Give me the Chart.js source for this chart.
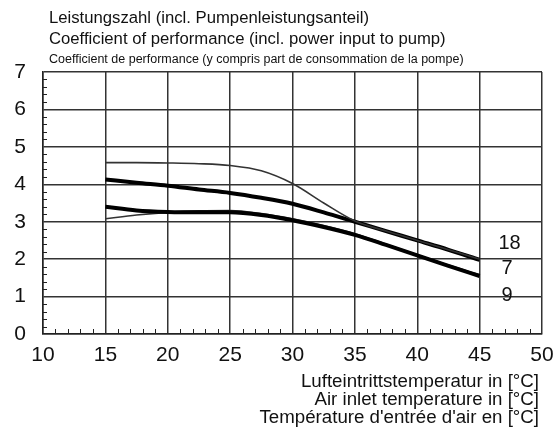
<!DOCTYPE html>
<html>
<head>
<meta charset="utf-8">
<script src="https://cdn.jsdelivr.net/npm/chart.js@4.4.1/dist/chart.umd.min.js"></script>
<style>
  html, body { margin: 0; padding: 0; background: #fff; }
  #wrap { width: 554px; height: 432px; position: relative; }
</style>
</head>
<body>
<div id="wrap"><canvas id="copChart"></canvas></div>
<script>
// air inlet temperature (°C)
const temps = [15, 17.5, 20, 22.5, 25, 27.5, 30, 32.5, 35, 37.5, 40, 42.5, 45];

// COP curves
const cop18 = [4.58, 4.58, 4.57, 4.55, 4.5, 4.36, 4.02, 3.5, 3.02, 2.75, 2.5, 2.25, 2.0];
const cop7 = [4.13, 4.04, 3.96, 3.86, 3.77, 3.64, 3.48, 3.25, 3.0, 2.75, 2.5, 2.25, 1.98];
const cop9 = [3.4, 3.3, 3.26, 3.25, 3.25, 3.18, 3.04, 2.86, 2.65, 2.38, 2.1, 1.82, 1.55];
const cop9b = [3.08, 3.18, 3.25, 3.29, 3.3, 3.22, 3.08, 2.9, 2.68, 2.4, 2.12, 1.84, 1.58];

// curve labels at the right end
const curveLabels = ["18", "7", "9"];
const curveLabelX = [47.4, 47.2, 47.2];
const curveLabelY = [2.42, 1.76, 1.04];

const xTitle = [
  "Lufteintrittstemperatur in [°C]",
  "Air inlet temperature in [°C]",
  "Température d'entrée d'air en [°C]",
];
const header = [
  "Leistungszahl (incl. Pumpenleistungsanteil)",
  "Coefficient of performance (incl. power input to pump)",
  "Coefficient de performance (y compris part de consommation de la pompe)",
];

const pts = (ys) => temps.map((t, i) => ({ x: t, y: ys[i] }));

function line(label, ys, width, color) {
  return {
    label,
    data: pts(ys),
    borderColor: color,
    borderWidth: width,
    pointRadius: 0,
    fill: false,
    cubicInterpolationMode: "monotone",
  };
}

const extras = {
  id: "extras",
  afterDatasetsDraw(chart) {
    const { ctx, chartArea: a, scales } = chart;
    const xs = scales.x, ys = scales.y;
    ctx.save();
    // minor ticks
    ctx.strokeStyle = "#222";
    ctx.lineWidth = 1;
    ctx.beginPath();
    for (let v = 11; v < 50; v++) {
      if (v % 5 === 0) continue;
      const px = Math.round(xs.getPixelForValue(v)) + 0.5;
      ctx.moveTo(px, a.bottom);
      ctx.lineTo(px, a.bottom - 5);
    }
    for (let k = 1; k < 35; k++) {
      if (k % 5 === 0) continue;
      const py = Math.round(ys.getPixelForValue(k / 5)) + 0.5;
      ctx.moveTo(a.left, py);
      ctx.lineTo(a.left + 4, py);
    }
    ctx.stroke();

    // curve labels
    ctx.fillStyle = "#111";
    ctx.font = "20px 'Liberation Sans', Arial, sans-serif";
    ctx.textAlign = "center";
    ctx.textBaseline = "middle";
    curveLabels.forEach((t, i) => {
      ctx.fillText(t, xs.getPixelForValue(curveLabelX[i]), ys.getPixelForValue(curveLabelY[i]));
    });

    // header
    ctx.textAlign = "left";
    ctx.textBaseline = "middle";
    ctx.font = "16.7px 'Liberation Sans', Arial, sans-serif";
    ctx.fillText(header[0], 49, 18);
    ctx.fillText(header[1], 49, 39);
    ctx.font = "12.5px 'Liberation Sans Narrow', 'Liberation Sans', Arial, sans-serif";
    ctx.fillText(header[2], 49, 60);

    // x axis title
    ctx.textAlign = "right";
    ctx.font = "18.7px 'Liberation Sans', Arial, sans-serif";
    xTitle.forEach((t, i) => ctx.fillText(t, 539, 382 + i * 18));
    ctx.restore();
  },
};

new Chart(document.getElementById("copChart"), {
  type: "line",
  data: {
    datasets: [
      line("18", cop18, 1.6, "#333"),
      line("7", cop7, 4, "#000"),
      line("9", cop9, 4, "#000"),
      line("9b", cop9b, 1.6, "#333"),
    ],
  },
  options: {
    responsive: true,
    maintainAspectRatio: false,
    animation: false,
    layout: { padding: { top: 72, right: 12, left: 0, bottom: 0 } },
    plugins: { legend: { display: false }, tooltip: { enabled: false } },
    scales: {
      x: {
        type: "linear",
        min: 10,
        max: 50,
        ticks: {
          stepSize: 5,
          color: "#111",
          padding: 9,
          font: { family: "'Liberation Sans', Arial, sans-serif", size: 21 },
        },
        grid: { color: "#333", lineWidth: 1.5, drawTicks: false },
        border: { color: "#222", width: 1.5 },
        afterFit: (s) => {
          s.height = 98;
          s.paddingLeft = 0;
          s.paddingRight = 0;
        },
      },
      y: {
        min: 0,
        max: 7,
        ticks: {
          stepSize: 1,
          color: "#111",
          padding: 17,
          font: { family: "'Liberation Sans', Arial, sans-serif", size: 21 },
        },
        grid: { color: "#333", lineWidth: 1.5, drawTicks: false },
        border: { color: "#222", width: 1.5 },
        afterFit: (s) => {
          s.width = 43;
          s.paddingTop = 0;
          s.paddingBottom = 0;
        },
      },
    },
  },
  plugins: [extras],
});
</script>
</body>
</html>
